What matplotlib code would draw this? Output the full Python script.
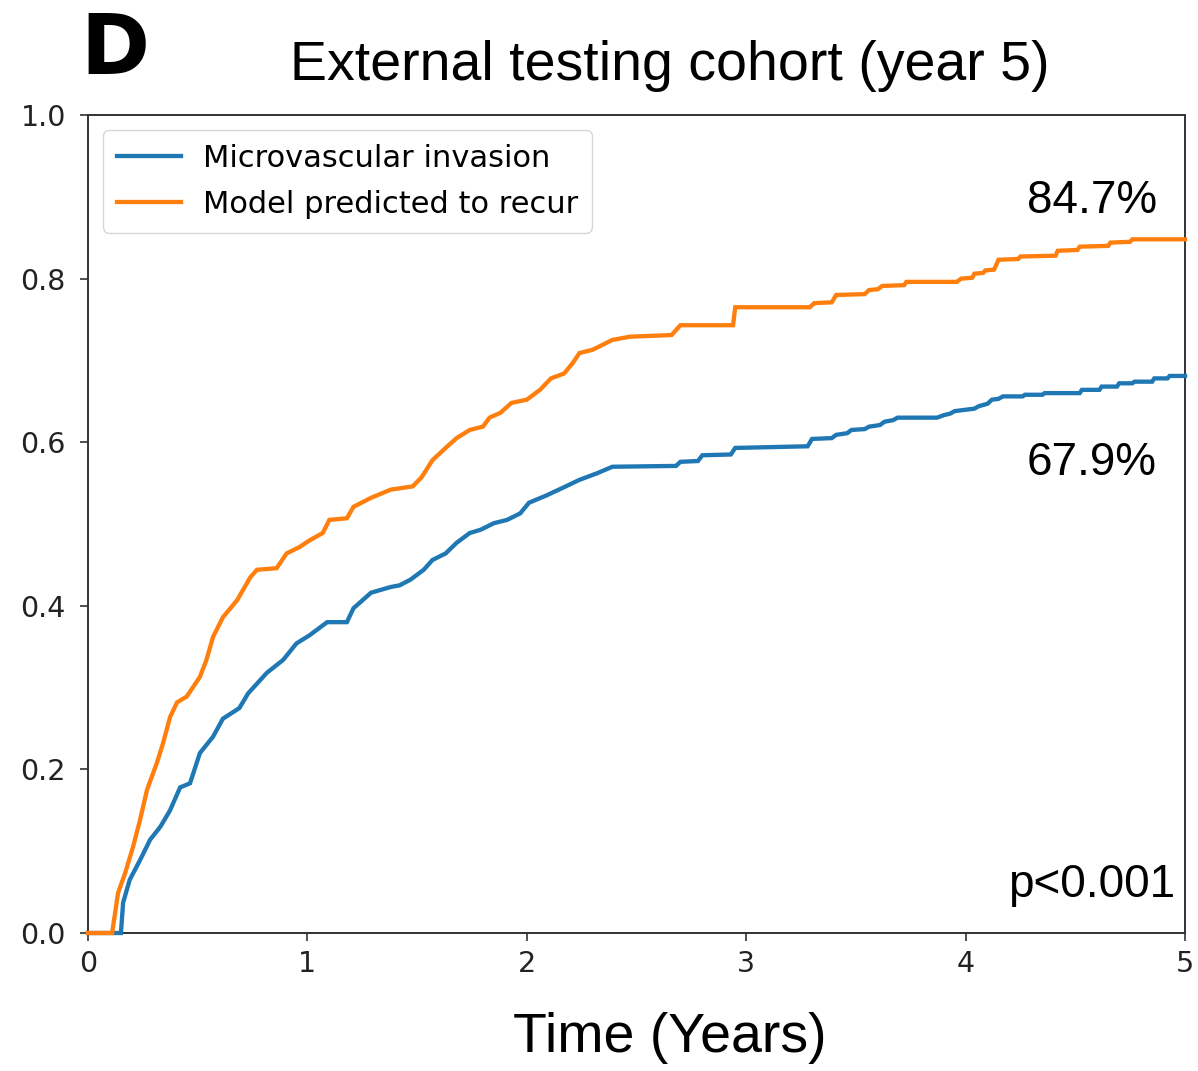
import matplotlib
matplotlib.use("Agg")
import matplotlib.pyplot as plt

# ---- data ----
orange_t = [0, 0.11, 0.137, 0.169, 0.205, 0.237, 0.269, 0.314, 0.342, 0.374, 0.406, 0.45, 0.51,
            0.54, 0.57, 0.615, 0.68, 0.74, 0.77, 0.86, 0.905, 0.965, 1.01, 1.07, 1.10, 1.18, 1.21,
            1.29, 1.38, 1.48, 1.52, 1.57, 1.63, 1.68, 1.74, 1.80, 1.83, 1.88, 1.93, 2.00, 2.06,
            2.11, 2.17, 2.21, 2.24, 2.30, 2.36, 2.39, 2.47, 2.66, 2.70, 2.94, 2.95, 3.29, 3.31,
            3.39, 3.41, 3.54, 3.56, 3.60, 3.62, 3.72, 3.73, 3.96, 3.98, 4.03, 4.04, 4.08, 4.09,
            4.13, 4.15, 4.24, 4.25, 4.41, 4.42, 4.51, 4.52, 4.65, 4.66, 4.75, 4.76, 5.0]
orange_v = [0, 0, 0.049, 0.073, 0.105, 0.138, 0.175, 0.208, 0.232, 0.264, 0.282, 0.289, 0.313,
            0.334, 0.362, 0.386, 0.407, 0.435, 0.444, 0.446, 0.464, 0.472, 0.48, 0.489, 0.505, 0.507, 0.521,
            0.532, 0.542, 0.546, 0.557, 0.578, 0.593, 0.605, 0.615, 0.619, 0.63, 0.636, 0.648, 0.652, 0.664,
            0.678, 0.684, 0.697, 0.709, 0.713, 0.721, 0.725, 0.729, 0.731, 0.743, 0.743, 0.765, 0.765, 0.77,
            0.771, 0.78, 0.781, 0.786, 0.787, 0.791, 0.792, 0.796, 0.796, 0.80, 0.801, 0.806, 0.807, 0.81,
            0.811, 0.823, 0.824, 0.827, 0.828, 0.834, 0.835, 0.839, 0.840, 0.844, 0.845, 0.848, 0.848]

blue_t = [0, 0.15, 0.16, 0.19, 0.237, 0.283, 0.33, 0.374, 0.42, 0.465, 0.51, 0.57, 0.615, 0.69,
          0.73, 0.815, 0.89, 0.95, 1.01, 1.09, 1.18, 1.21, 1.29, 1.38, 1.42, 1.47, 1.53, 1.57,
          1.63, 1.68, 1.74, 1.79, 1.85, 1.91, 1.97, 2.01, 2.09, 2.17, 2.24, 2.32, 2.39, 2.68,
          2.70, 2.78, 2.80, 2.93, 2.95, 3.28, 3.30, 3.39, 3.41, 3.46, 3.48, 3.54, 3.56, 3.61,
          3.63, 3.67, 3.69, 3.87, 3.90, 3.93, 3.95, 4.04, 4.06, 4.10, 4.12, 4.15, 4.17, 4.26,
          4.27, 4.35, 4.36, 4.52, 4.53, 4.61, 4.62, 4.69, 4.70, 4.76, 4.77, 4.85, 4.86, 4.92,
          4.93, 5.0]
blue_v = [0, 0, 0.037, 0.065, 0.089, 0.114, 0.13, 0.15, 0.178, 0.183, 0.22, 0.24, 0.262, 0.275,
          0.293, 0.318, 0.334, 0.354, 0.364, 0.38, 0.38, 0.397, 0.416, 0.423, 0.425, 0.432, 0.444, 0.456,
          0.464, 0.477, 0.489, 0.493, 0.501, 0.505, 0.513, 0.526, 0.535, 0.545, 0.554, 0.562, 0.57, 0.571,
          0.576, 0.577, 0.584, 0.585, 0.593, 0.595, 0.604, 0.605, 0.609, 0.611, 0.615, 0.616, 0.619, 0.621,
          0.625, 0.627, 0.63, 0.63, 0.633, 0.635, 0.638, 0.641, 0.644, 0.647, 0.652, 0.653, 0.656, 0.656,
          0.658, 0.658, 0.66, 0.66, 0.664, 0.664, 0.668, 0.668, 0.672, 0.672, 0.674, 0.674, 0.678, 0.678,
          0.681, 0.681]

series_labels = ["Microvascular invasion", "Model predicted to recur"]
x_ticks = [0, 1, 2, 3, 4, 5]
y_ticks = [0.0, 0.2, 0.4, 0.6, 0.8, 1.0]
end_labels = ["84.7%", "67.9%"]
p_text = "p<0.001"
title = "External testing cohort (year 5)"
panel = "D"
xlabel = "Time (Years)"

W, H = 1198, 1071
fig = plt.figure(figsize=(W / 100, H / 100), dpi=100)
ax = fig.add_axes([88 / W, 1 - 933 / H, (1185 - 88) / W, (933 - 115) / H])

ax.plot(blue_t, blue_v, color="#1f77b4", lw=3.1, label=series_labels[0],
        solid_joinstyle="miter", zorder=3, clip_on=False)
ax.plot(orange_t, orange_v, color="#ff7f0e", lw=3.1, label=series_labels[1],
        solid_joinstyle="miter", zorder=3, clip_on=False)

ax.set_xlim(0, 5)
ax.set_ylim(0, 1)
ax.set_xticks(x_ticks)
ax.set_xticklabels([str(t) for t in x_ticks])
ax.set_yticks(y_ticks)
ax.set_yticklabels([f"{t:.1f}" for t in y_ticks])
ax.tick_params(labelsize=20.5, length=6, width=1.2, colors="#333333", labelcolor="#222222")
ax.tick_params(axis="y", pad=10)
ax.tick_params(axis="x", pad=6)
for s in ax.spines.values():
    s.set_linewidth(1.4)
    s.set_color("#333333")

leg = ax.legend(loc="upper left", fontsize=22, frameon=True, handlelength=2.1,
                borderpad=0.45, labelspacing=0.55, handletextpad=0.7, borderaxespad=0.5)
leg.get_frame().set_edgecolor("#cccccc")
leg.set_zorder(5)

sans = ["Liberation Sans", "DejaVu Sans"]
ax.text(1157 / W, 1 - 213 / H, end_labels[0], transform=fig.transFigure, ha="right",
        va="baseline", fontsize=33, family=sans)
ax.text(1157 / W, 1 - 475 / H, end_labels[1], transform=fig.transFigure, ha="right",
        va="baseline", fontsize=33, family=sans)
ax.text(1175 / W, 1 - 897 / H, p_text, transform=fig.transFigure, ha="right",
        va="baseline", fontsize=33, family=sans)

fig.text(670 / W, 1 - 80 / H, title, ha="center", va="baseline", fontsize=40, family=sans)
fig.text(80 / W, 1 - 74 / H, panel, ha="left", va="baseline", fontsize=60,
         fontweight="bold", family=["DejaVu Sans"])
fig.text(670 / W, 1 - 1052 / H, xlabel, ha="center", va="baseline", fontsize=40, family=sans)

fig.savefig("out.png", dpi=100)
